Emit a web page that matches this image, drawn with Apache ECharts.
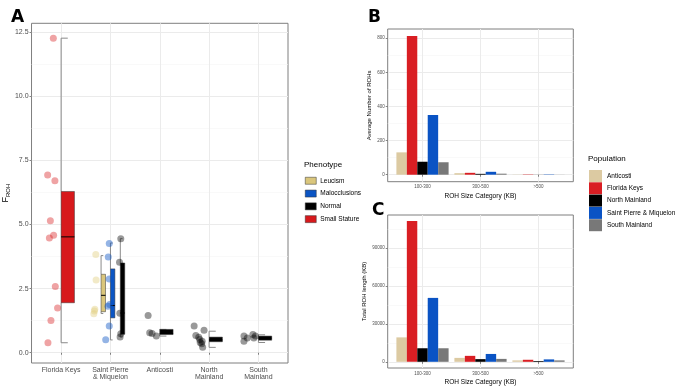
<!DOCTYPE html>
<html>
<head>
<meta charset="utf-8">
<script src="https://cdn.jsdelivr.net/npm/echarts@6/dist/echarts.min.js"></script>
<style>
html, body { margin: 0; padding: 0; background: #fff; }
#main { width: 675px; height: 387px; }
</style>
</head>
<body>
<div id="main"></div>
<script>
// ---- panel A : F_ROH by site / phenotype ----
var sites = ['Florida Keys', 'Saint Pierre\n& Miquelon', 'Anticosti', 'North\nMainland', 'South\nMainland'];
var phenotypes = ['Leucism', 'Malocclusions', 'Normal', 'Small Stature'];
var yTicksA = [0, 2.5, 5, 7.5, 10, 12.5];
var yMinorA = [1.25, 3.75, 6.25, 8.75, 11.25];

// boxes: [site, low whisker, q1, median, q3, high whisker]
var boxLeucism = [[2, 1.53, 1.6, 2.24, 3.06, 3.79]];
var boxMalocclusions = [[2, 0.5, 1.36, 1.84, 3.27, 4.28]];
var boxNormal = [[2, 0.61, 0.72, 1.55, 3.5, 4.45], [3, 0.65, 0.71, 0.75, 0.91, 0.91], [4, 0.21, 0.43, 0.5, 0.61, 0.84], [5, 0.4, 0.49, 0.57, 0.65, 0.7]];
var boxSmallStature = [[1, 0.39, 1.95, 4.52, 6.29, 12.27]];

// jittered points: [x, F_ROH]
var ptsSmallStature = [[0.842, 12.27], [0.727, 6.93], [0.874, 6.71], [0.782, 5.15], [0.848, 4.58], [0.762, 4.48], [0.882, 2.58], [0.928, 1.75], [0.794, 1.26], [0.733, 0.39]];
var ptsLeucism = [[1.703, 3.83], [1.709, 2.84], [1.683, 1.7], [1.675, 1.63], [1.663, 1.52]];
var ptsMalocclusions = [[1.976, 4.26], [1.956, 3.73], [1.976, 2.88], [1.984, 1.88], [1.95, 1.81], [1.976, 1.04], [1.904, 0.51]];
var ptsNormal = [[2.21, 4.45], [2.184, 3.53], [2.19, 1.54], [2.21, 0.74], [2.196, 0.61],
    [2.764, 1.45], [2.796, 0.78], [2.844, 0.75], [2.93, 0.65],
    [3.697, 1.04], [3.898, 0.88], [3.731, 0.67], [3.79, 0.6], [3.81, 0.52], [3.86, 0.45], [3.82, 0.4], [3.85, 0.35], [3.87, 0.21],
    [4.707, 0.65], [4.707, 0.45], [4.774, 0.58], [4.888, 0.71], [4.908, 0.58], [4.94, 0.65]];

// ---- panels B / C : ROH by size class ----
var sizeCats = ['100-300', '300-500', '>500'];
var populations = ['Anticosti', 'Florida Keys', 'North Mainland', 'Saint Pierre & Miquelon', 'South Mainland'];
var avgAnticosti = [131, 9, 1];
var avgFlorida = [813, 11, 2];
var avgNorth = [76, 5, 0.5];
var avgSPM = [350, 17, 2];
var avgSouth = [73, 6, 0.5];
var totAnticosti = [19300, 3100, 1100];
var totFlorida = [111300, 4700, 1600];
var totNorth = [10700, 2100, 600];
var totSPM = [50500, 6200, 1900];
var totSouth = [10700, 2300, 1100];
var yTicksB = [0, 200, 400, 600, 800];
var yMinorB = [100, 300, 500, 700];
var yTicksC = [0, 30000, 60000, 90000];
var yMinorC = [15000, 45000, 75000, 105000];

var phenoColors = { 'Leucism': '#dac67c', 'Malocclusions': '#0b55c4', 'Normal': '#000000', 'Small Stature': '#d7191c' };
var pointColors = { 'Leucism': 'rgba(226,208,130,0.55)', 'Malocclusions': 'rgba(11,85,196,0.55)', 'Normal': 'rgba(0,0,0,0.5)', 'Small Stature': 'rgba(215,25,28,0.5)' };
var popColors = ['#dccaa2', '#d91e23', '#000000', '#0a53c4', '#787878'];
var spmDodge = { 'Leucism': -0.19, 'Malocclusions': 0.0, 'Normal': 0.2 };

var FONT = 'Liberation Sans, Arial, sans-serif';
var chart = echarts.init(document.getElementById('main'));

function boxLayout(name, site) {
    if (site === 2) return { x: site + spmDodge[name], w: 0.09 };
    return { x: site, w: 0.27 };
}

function boxSeries(name, data) {
    return {
        name: name,
        type: 'custom',
        xAxisIndex: 0, yAxisIndex: 0,
        itemStyle: { color: phenoColors[name] },
        encode: { x: 0, y: [1, 2, 3, 4, 5] },
        z: 3,
        data: data,
        renderItem: function (params, api) {
            var L = boxLayout(name, api.value(0));
            var lo = api.coord([L.x, api.value(1)]);
            var q1 = api.coord([L.x, api.value(2)]);
            var md = api.coord([L.x, api.value(3)]);
            var q3 = api.coord([L.x, api.value(4)]);
            var hi = api.coord([L.x, api.value(5)]);
            var xr = api.coord([L.x + L.w, 0])[0];
            var xc = api.coord([L.x + L.w / 2, 0])[0];
            var xl = lo[0];
            var wl = { stroke: '#8a8a8a', lineWidth: 1 };
            return {
                type: 'group',
                children: [
                    { type: 'line', shape: { x1: xl, y1: lo[1], x2: xl, y2: q1[1] }, style: wl },
                    { type: 'line', shape: { x1: xl, y1: q3[1], x2: xl, y2: hi[1] }, style: wl },
                    { type: 'line', shape: { x1: xl, y1: lo[1], x2: xc, y2: lo[1] }, style: wl },
                    { type: 'line', shape: { x1: xl, y1: hi[1], x2: xc, y2: hi[1] }, style: wl },
                    { type: 'rect', shape: { x: xl, y: q3[1], width: xr - xl, height: q1[1] - q3[1] },
                      style: { fill: phenoColors[name], stroke: '#333', lineWidth: 0.5 } },
                    { type: 'line', shape: { x1: xl, y1: md[1], x2: xr, y2: md[1] }, style: { stroke: '#000', lineWidth: 1 } }
                ]
            };
        }
    };
}

function pointSeries(name, data) {
    return {
        name: name,
        type: 'scatter',
        xAxisIndex: 0, yAxisIndex: 0,
        symbolSize: 7,
        itemStyle: { color: pointColors[name] },
        z: 4,
        data: data
    };
}

function barSeries(idx, values, gridIdx) {
    return {
        name: populations[idx],
        type: 'custom',
        xAxisIndex: gridIdx, yAxisIndex: gridIdx * 2,
        itemStyle: { color: popColors[idx] },
        encode: { x: 0, y: 1 },
        data: values.map(function (v, i) { return [i + 1, v]; }),
        renderItem: function (params, api) {
            var off = (idx - 2) * 0.18;
            var a = api.coord([api.value(0) + off - 0.09, api.value(1)]);
            var b = api.coord([api.value(0) + off + 0.09, 0]);
            return { type: 'rect', shape: { x: a[0], y: a[1], width: b[0] - a[0], height: b[1] - a[1] },
                     style: { fill: popColors[idx] } };
        }
    };
}

function valueX(gridIdx, min, max, ticks, labels, fontSize, name) {
    return {
        type: 'value', gridIndex: gridIdx, min: min, max: max,
        name: name || '', nameLocation: 'middle', nameGap: 11,
        nameTextStyle: { fontSize: 6.5, color: '#000', fontFamily: FONT },
        axisLine: { show: false },
        axisTick: { show: true, length: 2, customValues: ticks, lineStyle: { color: '#333', width: 0.6 } },
        axisLabel: { customValues: ticks, fontSize: fontSize, color: '#4d4d4d', fontFamily: FONT, margin: 3,
                     lineHeight: fontSize + 0.5,
                     formatter: function (v) { return labels[Math.round(v) - 1]; } },
        splitLine: { show: true, lineStyle: { color: '#ebebeb', width: 1 } }
    };
}

function valueY(gridIdx, min, max, ticks, fontSize, fmt, name, gap) {
    return {
        type: 'value', gridIndex: gridIdx, min: min, max: max,
        name: name || '', nameLocation: 'middle', nameGap: gap || 10,
        nameTextStyle: { fontSize: 6, color: '#000', fontFamily: FONT },
        axisLine: { show: false },
        axisTick: { show: true, length: 2, customValues: ticks, lineStyle: { color: '#333', width: 0.6 } },
        axisLabel: { customValues: ticks, fontSize: fontSize, color: '#4d4d4d', fontFamily: FONT, margin: 3, formatter: fmt },
        splitLine: { show: true, lineStyle: { color: '#ebebeb', width: 1 } }
    };
}

function minorY(gridIdx, min, max, ticks) {
    return {
        type: 'value', gridIndex: gridIdx, min: min, max: max, position: 'left',
        axisLine: { show: false },
        axisTick: { show: false, customValues: ticks },
        axisLabel: { show: false, customValues: ticks },
        splitLine: { show: true, lineStyle: { color: '#f5f5f5', width: 0.6 } }
    };
}

function plain(v) { return String(v); }

var yA = valueY(0, -0.4, 12.85, yTicksA, 7, function (v) { return v.toFixed(1); }, '{f|F}{s|ROH}', 17);
yA.nameTextStyle = { color: '#000', fontFamily: FONT, rich: { f: { fontSize: 9, fontFamily: FONT }, s: { fontSize: 6, fontFamily: FONT, verticalAlign: 'bottom', padding: [5, 0, 0, 0] } } };

var option = {
    backgroundColor: '#ffffff',
    animation: false,
    textStyle: { fontFamily: FONT },
    title: [
        { text: 'A', left: 6, top: 4, textStyle: { fontSize: 17, fontWeight: 900, fontFamily: 'DejaVu Sans', color: '#000' } },
        { text: 'B', left: 363, top: 4, textStyle: { fontSize: 17, fontWeight: 900, fontFamily: 'DejaVu Sans', color: '#000' } },
        { text: 'C', left: 367, top: 197, textStyle: { fontSize: 17, fontWeight: 900, fontFamily: 'DejaVu Sans', color: '#000' } },
        { text: 'Phenotype', left: 299, top: 156, textStyle: { fontSize: 8, fontWeight: 'normal', fontFamily: FONT, color: '#000' } },
        { text: 'Population', left: 583, top: 150, textStyle: { fontSize: 8, fontWeight: 'normal', fontFamily: FONT, color: '#000' } }
    ],
    legend: [
        {
            data: phenotypes, orient: 'vertical', left: 300, top: 172,
            icon: 'rect', itemWidth: 11, itemHeight: 7, itemGap: 5.3,
            itemStyle: { borderColor: '#333', borderWidth: 0.5 },
            textStyle: { fontSize: 6.5, color: '#000', fontFamily: FONT, padding: [0, 0, 0, -1] },
            selectedMode: false
        },
        {
            data: populations, orient: 'vertical', left: 584, top: 165,
            icon: 'rect', itemWidth: 13, itemHeight: 12, itemGap: 0.3,
            textStyle: { fontSize: 6.5, color: '#000', fontFamily: FONT },
            selectedMode: false
        }
    ],
    grid: [
        { left: 28.7, top: 23.3, width: 259.3, height: 339.7, show: true, borderColor: '#7f7f7f', borderWidth: 1, backgroundColor: 'transparent' },
        { left: 387.7, top: 29, width: 185.6, height: 152.7, show: true, borderColor: '#7f7f7f', borderWidth: 1, backgroundColor: 'transparent' },
        { left: 387.7, top: 215, width: 185.6, height: 155, show: true, borderColor: '#7f7f7f', borderWidth: 1, backgroundColor: 'transparent' }
    ],
    xAxis: [
        valueX(0, 0.4, 5.6, [1, 2, 3, 4, 5], sites, 7),
        valueX(1, 0.4, 3.6, [1, 2, 3], sizeCats, 4.5, 'ROH Size Category (KB)'),
        valueX(2, 0.4, 3.6, [1, 2, 3], sizeCats, 4.5, 'ROH Size Category (KB)')
    ],
    yAxis: [
        yA,
        minorY(0, -0.4, 12.85, yMinorA),
        valueY(1, -41, 854, yTicksB, 4.5, plain, 'Average Number of ROHs', 15),
        minorY(1, -41, 854, yMinorB),
        valueY(2, -4900, 116000, yTicksC, 4.5, plain, 'Total ROH length (KB)', 20),
        minorY(2, -4900, 116000, yMinorC)
    ],
    series: [
        boxSeries('Leucism', boxLeucism),
        boxSeries('Malocclusions', boxMalocclusions),
        boxSeries('Normal', boxNormal),
        boxSeries('Small Stature', boxSmallStature),
        pointSeries('Leucism', ptsLeucism),
        pointSeries('Malocclusions', ptsMalocclusions),
        pointSeries('Normal', ptsNormal),
        pointSeries('Small Stature', ptsSmallStature),
        barSeries(0, avgAnticosti, 1), barSeries(1, avgFlorida, 1), barSeries(2, avgNorth, 1), barSeries(3, avgSPM, 1), barSeries(4, avgSouth, 1),
        barSeries(0, totAnticosti, 2), barSeries(1, totFlorida, 2), barSeries(2, totNorth, 2), barSeries(3, totSPM, 2), barSeries(4, totSouth, 2)
    ]
};
chart.setOption(option);
</script>
</body>
</html>
